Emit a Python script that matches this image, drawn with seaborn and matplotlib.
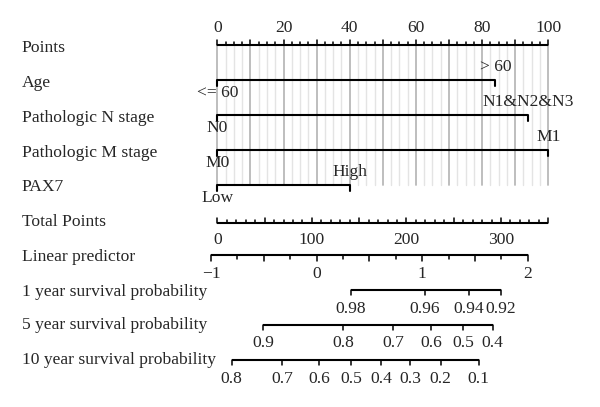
import numpy as np
import matplotlib
matplotlib.use('Agg')
import matplotlib.pyplot as plt
import seaborn as sns

sns.set_theme(style='white')
plt.rcParams['font.family'] = ['Liberation Serif', 'DejaVu Serif']

# --- values (x in "Points" units, 0-100) ---
row_names = ['Points', 'Age', 'Pathologic N stage', 'Pathologic M stage', 'PAX7',
             'Total Points', 'Linear predictor', '1 year survival probability',
             '5 year survival probability', '10 year survival probability']

points_labels = [0, 20, 40, 60, 80, 100]

age_levels = ['<= 60', '> 60']
age_points = [0, 84]
n_levels = ['N0', 'N1&N2&N3']
n_points = [0, 94]
m_levels = ['M0', 'M1']
m_points = [0, 100]
pax7_levels = ['Low', 'High']
pax7_points = [0, 40]

total_labels = [0, 100, 200, 300]
total_max = 350

lp_labels = [-1, 0, 1, 2]
lp_span_points = [-1.9, 93.8]   # where LP -1 and LP 2 fall on the points scale

surv1_labels = ['0.98', '0.96', '0.94', '0.92']
surv1_pos = [40.3, 62.7, 76.0, 85.6]
surv5_labels = ['0.9', '0.8', '0.7', '0.6', '0.5', '0.4']
surv5_pos = [13.9, 38.1, 53.1, 64.5, 74.3, 83.2]
surv10_labels = ['0.8', '0.7', '0.6', '0.5', '0.4', '0.3', '0.2', '0.1']
surv10_pos = [4.35, 19.5, 30.8, 40.4, 49.4, 58.2, 67.5, 79.0]

# layout (y in pixels from top)
row_y = [48, 83, 118, 153, 187, 222, 257, 292, 325, 360]
FS = 12.6
LW = 1.5

fig = plt.figure(figsize=(6.0, 4.07), dpi=100)
ax = fig.add_axes([0, 0, 1, 1])
ax.set_xlim(-217.3 / 3.31, (600 - 217.3) / 3.31)
ax.set_ylim(407, 0)
ax.axis('off')

for name, y in zip(row_names, row_y):
    ax.text(-59.1, y, name, ha='left', va='center', fontsize=FS)

# gray reference lines behind the predictor rows
for v in np.arange(0, 100.01, 2.5):
    major = abs(v % 10) < 1e-6
    ax.plot([v, v], [45, 185], color='#b9b9b9' if major else '#e4e4e4',
            lw=1.3 if major else 1.0, zorder=0)

# Points axis
ax.plot([0, 100], [45, 45], color='black', lw=LW, solid_capstyle='butt')
for v in np.arange(0, 100.01, 2.5):
    h = 5 if abs(v % 10) < 1e-6 else 3
    ax.plot([v, v], [45, 45 - h], color='black', lw=1.1)
for v in points_labels:
    ax.text(v, 28, str(v), ha='center', va='center', fontsize=FS)

# predictor rows
predictors = [(age_levels, age_points, 80), (n_levels, n_points, 115),
              (m_levels, m_points, 150), (pax7_levels, pax7_points, 185)]
for levels, pts, y in predictors:
    ax.plot([min(pts), max(pts)], [y, y], color='black', lw=LW, solid_capstyle='butt')
    for i, (lab, p) in enumerate(zip(levels, pts)):
        ax.plot([p, p], [y, y + 6], color='black', lw=LW)
        ty = y + 13 if i % 2 == 0 else y - 13
        ax.text(p, ty, lab, ha='center', va='center', fontsize=FS)

# Total Points axis
tp_y = 222.5
ax.plot([0, total_max / 3.5], [tp_y, tp_y], color='black', lw=LW, solid_capstyle='butt')
for v in range(0, total_max + 1, 10):
    h = 5 if v % 50 == 0 else 3
    ax.plot([v / 3.5, v / 3.5], [tp_y, tp_y - h], color='black', lw=1.1)
for v in total_labels:
    ax.text(v / 3.5, 240, str(v), ha='center', va='center', fontsize=FS)

def lp_x(v):
    return np.interp(v, [-1, 2], lp_span_points)

# Linear predictor axis
lp_y = 255
ax.plot([lp_x(-1), lp_x(2)], [lp_y, lp_y], color='black', lw=LW, solid_capstyle='butt')
for v in np.arange(-1, 2.01, 0.25):
    h = 6 if abs(v * 2 - round(v * 2)) < 1e-6 else 3.5
    ax.plot([lp_x(v), lp_x(v)], [lp_y, lp_y + h], color='black', lw=1.1)
for v in lp_labels:
    ax.text(lp_x(v), 274, '\u2212' + str(-v) if v < 0 else str(v),
            ha='center', va='center', fontsize=FS)

# survival axes
for labels, pos, y, ly in [(surv1_labels, surv1_pos, 290, 309),
                           (surv5_labels, surv5_pos, 325, 343),
                           (surv10_labels, surv10_pos, 360, 379)]:
    ax.plot([pos[0], pos[-1]], [y, y], color='black', lw=LW, solid_capstyle='butt')
    for lab, p in zip(labels, pos):
        ax.plot([p, p], [y, y + 5], color='black', lw=1.1)
        ax.text(p, ly, lab, ha='center', va='center', fontsize=FS)

fig.savefig('out.png', dpi=100)
